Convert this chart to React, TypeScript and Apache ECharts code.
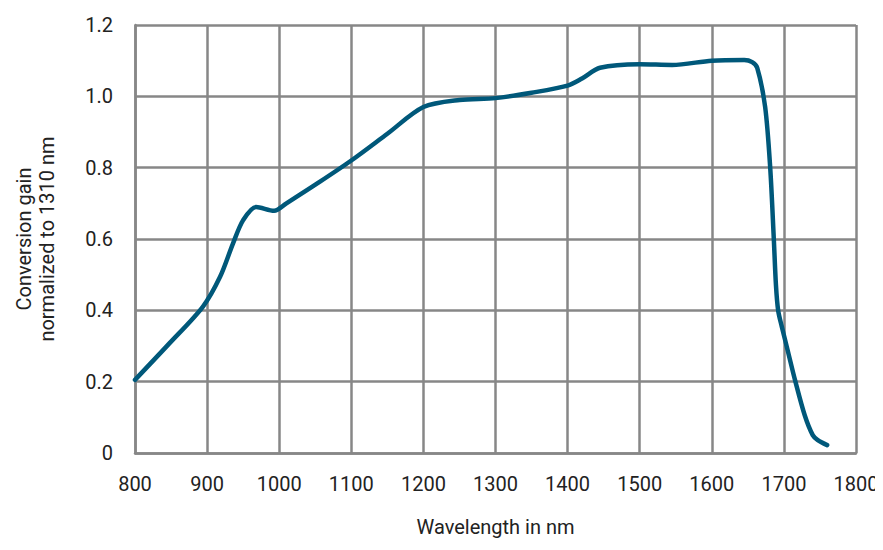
import React, { useEffect, useRef } from "react";
import * as echarts from "echarts";

const wavelengths = [800, 848, 894, 918, 936, 950, 968, 993, 1010, 1056, 1100, 1150, 1200, 1250, 1300, 1350, 1400, 1420, 1445, 1500, 1545, 1600, 1645, 1656, 1663, 1674, 1681, 1686, 1689, 1692, 1697, 1704, 1716, 1729, 1740, 1747, 1760];
const gains = [0.205, 0.308, 0.41, 0.494, 0.588, 0.653, 0.69, 0.679, 0.7, 0.76, 0.82, 0.895, 0.97, 0.99, 0.995, 1.01, 1.03, 1.05, 1.08, 1.09, 1.088, 1.1, 1.102, 1.096, 1.08, 0.97, 0.8, 0.6, 0.47, 0.4, 0.355, 0.298, 0.2, 0.105, 0.05, 0.036, 0.022];

const xTicks = [800, 900, 1000, 1100, 1200, 1300, 1400, 1500, 1600, 1700, 1800];
const yTicks = [0, 0.2, 0.4, 0.6, 0.8, 1.0, 1.2];

const FONT = "Roboto, 'Liberation Sans', sans-serif";
const GRID = "#878787";

export default function App() {
  const ref = useRef<HTMLDivElement>(null);
  useEffect(() => {
    if (!ref.current) return;
    const chart = echarts.init(ref.current, undefined, { renderer: "svg" });
    chart.setOption({
      animation: false,
      grid: { left: 135, right: 27, top: 25, bottom: 97 },
      xAxis: {
        type: "value",
        min: xTicks[0],
        max: xTicks[xTicks.length - 1],
        interval: 100,
        name: "Wavelength in nm",
        nameLocation: "middle",
        nameGap: 64,
        nameTextStyle: { fontFamily: FONT, fontSize: 20, color: "#222" },
        axisLine: { lineStyle: { color: GRID, width: 2.5 } },
        axisTick: { show: false },
        splitLine: { lineStyle: { color: GRID, width: 2.5 } },
        axisLabel: {
          fontFamily: FONT,
          fontSize: 20,
          color: "#222",
          margin: 21,
          formatter: (v: number) => String(v),
        },
      },
      yAxis: {
        type: "value",
        min: yTicks[0],
        max: yTicks[yTicks.length - 1],
        interval: 0.2,
        name: "Conversion gain\nnormalized to 1310 nm",
        nameLocation: "middle",
        nameGap: 77,
        nameTextStyle: { fontFamily: FONT, fontSize: 20, color: "#222", lineHeight: 23 },
        axisLine: { show: true, lineStyle: { color: GRID, width: 2.5 } },
        axisTick: { show: false },
        splitLine: { lineStyle: { color: GRID, width: 2.5 } },
        axisLabel: {
          fontFamily: FONT,
          fontSize: 20,
          color: "#222",
          margin: 22,
          formatter: (v: number) => (v === 0 ? "0" : v.toFixed(1)),
        },
      },
      series: [
        {
          type: "line",
          data: wavelengths.map((w, i) => [w, gains[i]]),
          smooth: 0.3,
          showSymbol: false,
          lineStyle: { color: "#00587a", width: 4.5, cap: "round", join: "round" },
        },
      ],
    });
    return () => chart.dispose();
  }, []);
  return <div ref={ref} style={{ width: 883, height: 550, margin: -8 }} />;
}
